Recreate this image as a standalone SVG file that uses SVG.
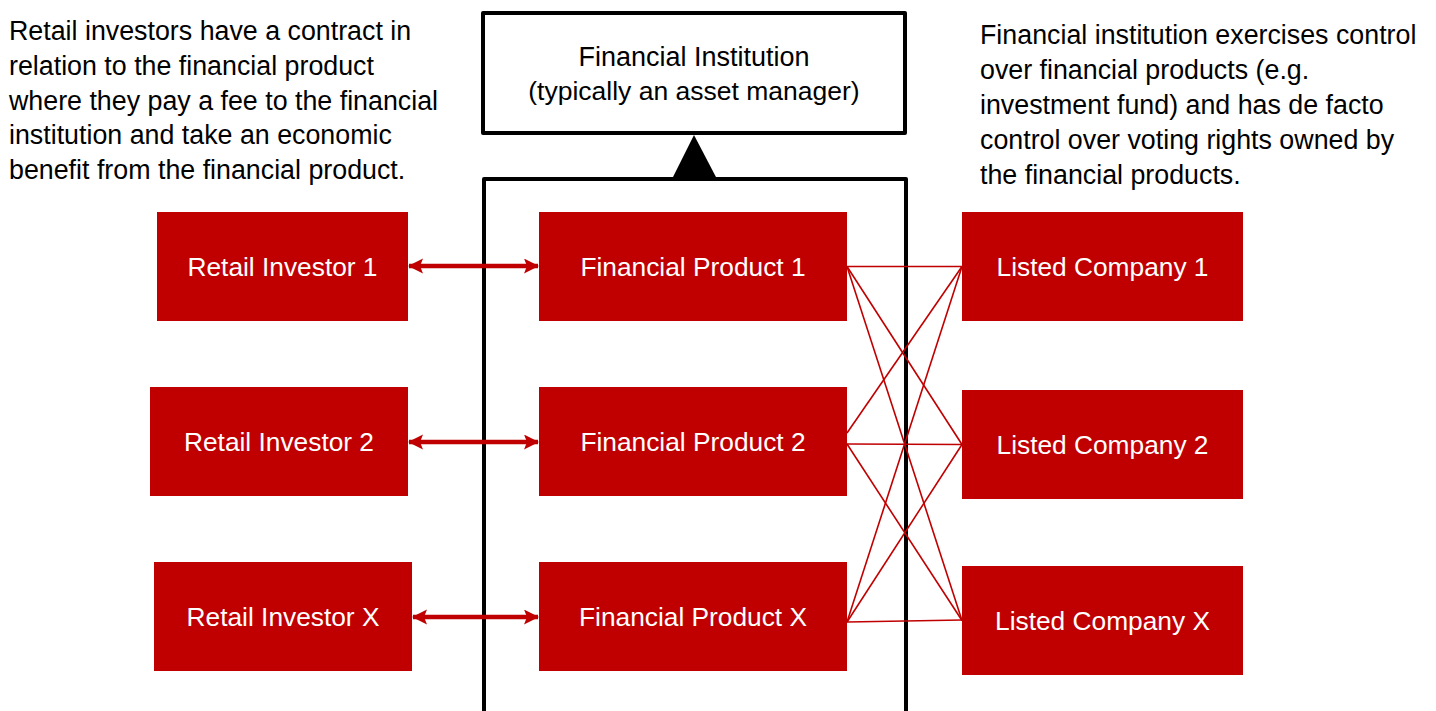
<svg xmlns="http://www.w3.org/2000/svg" width="1436" height="711" viewBox="0 0 1436 711">
  <defs>
    <marker id="ah" markerWidth="16" markerHeight="16" refX="14" refY="7.5" orient="auto-start-reverse" markerUnits="userSpaceOnUse">
      <path d="M0,0 L15,7.5 L0,15 L3,7.5 Z" fill="#c00000"/>
    </marker>
  </defs>
  <style>
    text { font-family: "Liberation Sans", Arial, sans-serif; }
    .box { fill: #c00000; }
    .lbl { fill: #ffffff; font-size: 26.3px; text-anchor: middle; }
    .para { fill: #000000; font-size: 26.8px; }
    .frame { fill: none; stroke: #000000; stroke-width: 4; stroke-linejoin: round; }
    .thin { stroke: #c00000; stroke-width: 1.6; fill: none; }
    .dbl { stroke: #c00000; stroke-width: 4.5; fill: none; marker-start: url(#ah); marker-end: url(#ah); }
  </style>
  <rect width="1436" height="711" fill="#ffffff"/>

  <g id="notes">
    <text class="para" x="9" y="40">Retail investors have a contract in</text>
    <text class="para" x="9" y="75">relation to the financial product</text>
    <text class="para" x="9" y="110">where they pay a fee to the financial</text>
    <text class="para" x="9" y="144">institution and take an economic</text>
    <text class="para" x="9" y="179">benefit from the financial product.</text>
    <text class="para" x="980" y="44">Financial institution exercises control</text>
    <text class="para" x="980" y="79">over financial products (e.g.</text>
    <text class="para" x="980" y="114">investment fund) and has de facto</text>
    <text class="para" x="980" y="149">control over voting rights owned by</text>
    <text class="para" x="980" y="184">the financial products.</text>
  </g>

  <g id="financial-institution">
    <rect class="frame" x="483" y="13" width="422" height="120" fill="#ffffff"/>
    <text x="694" y="66" font-size="27" text-anchor="middle" fill="#000000">Financial Institution</text>
    <text x="694" y="100" font-size="26.5" text-anchor="middle" fill="#000000">(typically an asset manager)</text>
  </g>

  <g id="product-frame">
    <path class="frame" d="M484,715 L484,179 L906,179 L906,715"/>
  </g>

  <g id="connectors">
    <polygon points="694,135 717,179 672,179" fill="#000000"/>
    <line class="dbl" x1="409" y1="266" x2="538" y2="266"/>
    <line class="dbl" x1="409" y1="442" x2="538" y2="442"/>
    <line class="dbl" x1="413" y1="617" x2="538" y2="617"/>
    <line class="thin" x1="847" y1="266.5" x2="962" y2="266.5"/>
    <line class="thin" x1="847" y1="266.5" x2="962" y2="444.5"/>
    <line class="thin" x1="847" y1="266.5" x2="962" y2="620.5"/>
    <line class="thin" x1="847" y1="433" x2="962" y2="266.5"/>
    <line class="thin" x1="847" y1="444" x2="962" y2="444.5"/>
    <line class="thin" x1="847" y1="444" x2="962" y2="620.5"/>
    <line class="thin" x1="847" y1="622" x2="962" y2="266.5"/>
    <line class="thin" x1="847" y1="622" x2="962" y2="444.5"/>
    <line class="thin" x1="847" y1="622" x2="962" y2="620"/>
  </g>

  <g id="retail-investor-1">
    <rect class="box" x="157" y="212" width="251" height="109"/>
    <text class="lbl" x="282.5" y="276">Retail Investor 1</text>
  </g>
  <g id="retail-investor-2">
    <rect class="box" x="150" y="387" width="258" height="109"/>
    <text class="lbl" x="279" y="451">Retail Investor 2</text>
  </g>
  <g id="retail-investor-x">
    <rect class="box" x="154" y="562" width="258" height="109"/>
    <text class="lbl" x="283" y="626">Retail Investor X</text>
  </g>

  <g id="financial-product-1">
    <rect class="box" x="539" y="212" width="308" height="109"/>
    <text class="lbl" x="693" y="276">Financial Product 1</text>
  </g>
  <g id="financial-product-2">
    <rect class="box" x="539" y="387" width="308" height="109"/>
    <text class="lbl" x="693" y="451">Financial Product 2</text>
  </g>
  <g id="financial-product-x">
    <rect class="box" x="539" y="562" width="308" height="109"/>
    <text class="lbl" x="693" y="626">Financial Product X</text>
  </g>

  <g id="listed-company-1">
    <rect class="box" x="962" y="212" width="281" height="109"/>
    <text class="lbl" x="1102.5" y="276">Listed Company 1</text>
  </g>
  <g id="listed-company-2">
    <rect class="box" x="962" y="390" width="281" height="109"/>
    <text class="lbl" x="1102.5" y="454">Listed Company 2</text>
  </g>
  <g id="listed-company-x">
    <rect class="box" x="962" y="566" width="281" height="109"/>
    <text class="lbl" x="1102.5" y="630">Listed Company X</text>
  </g>
</svg>
